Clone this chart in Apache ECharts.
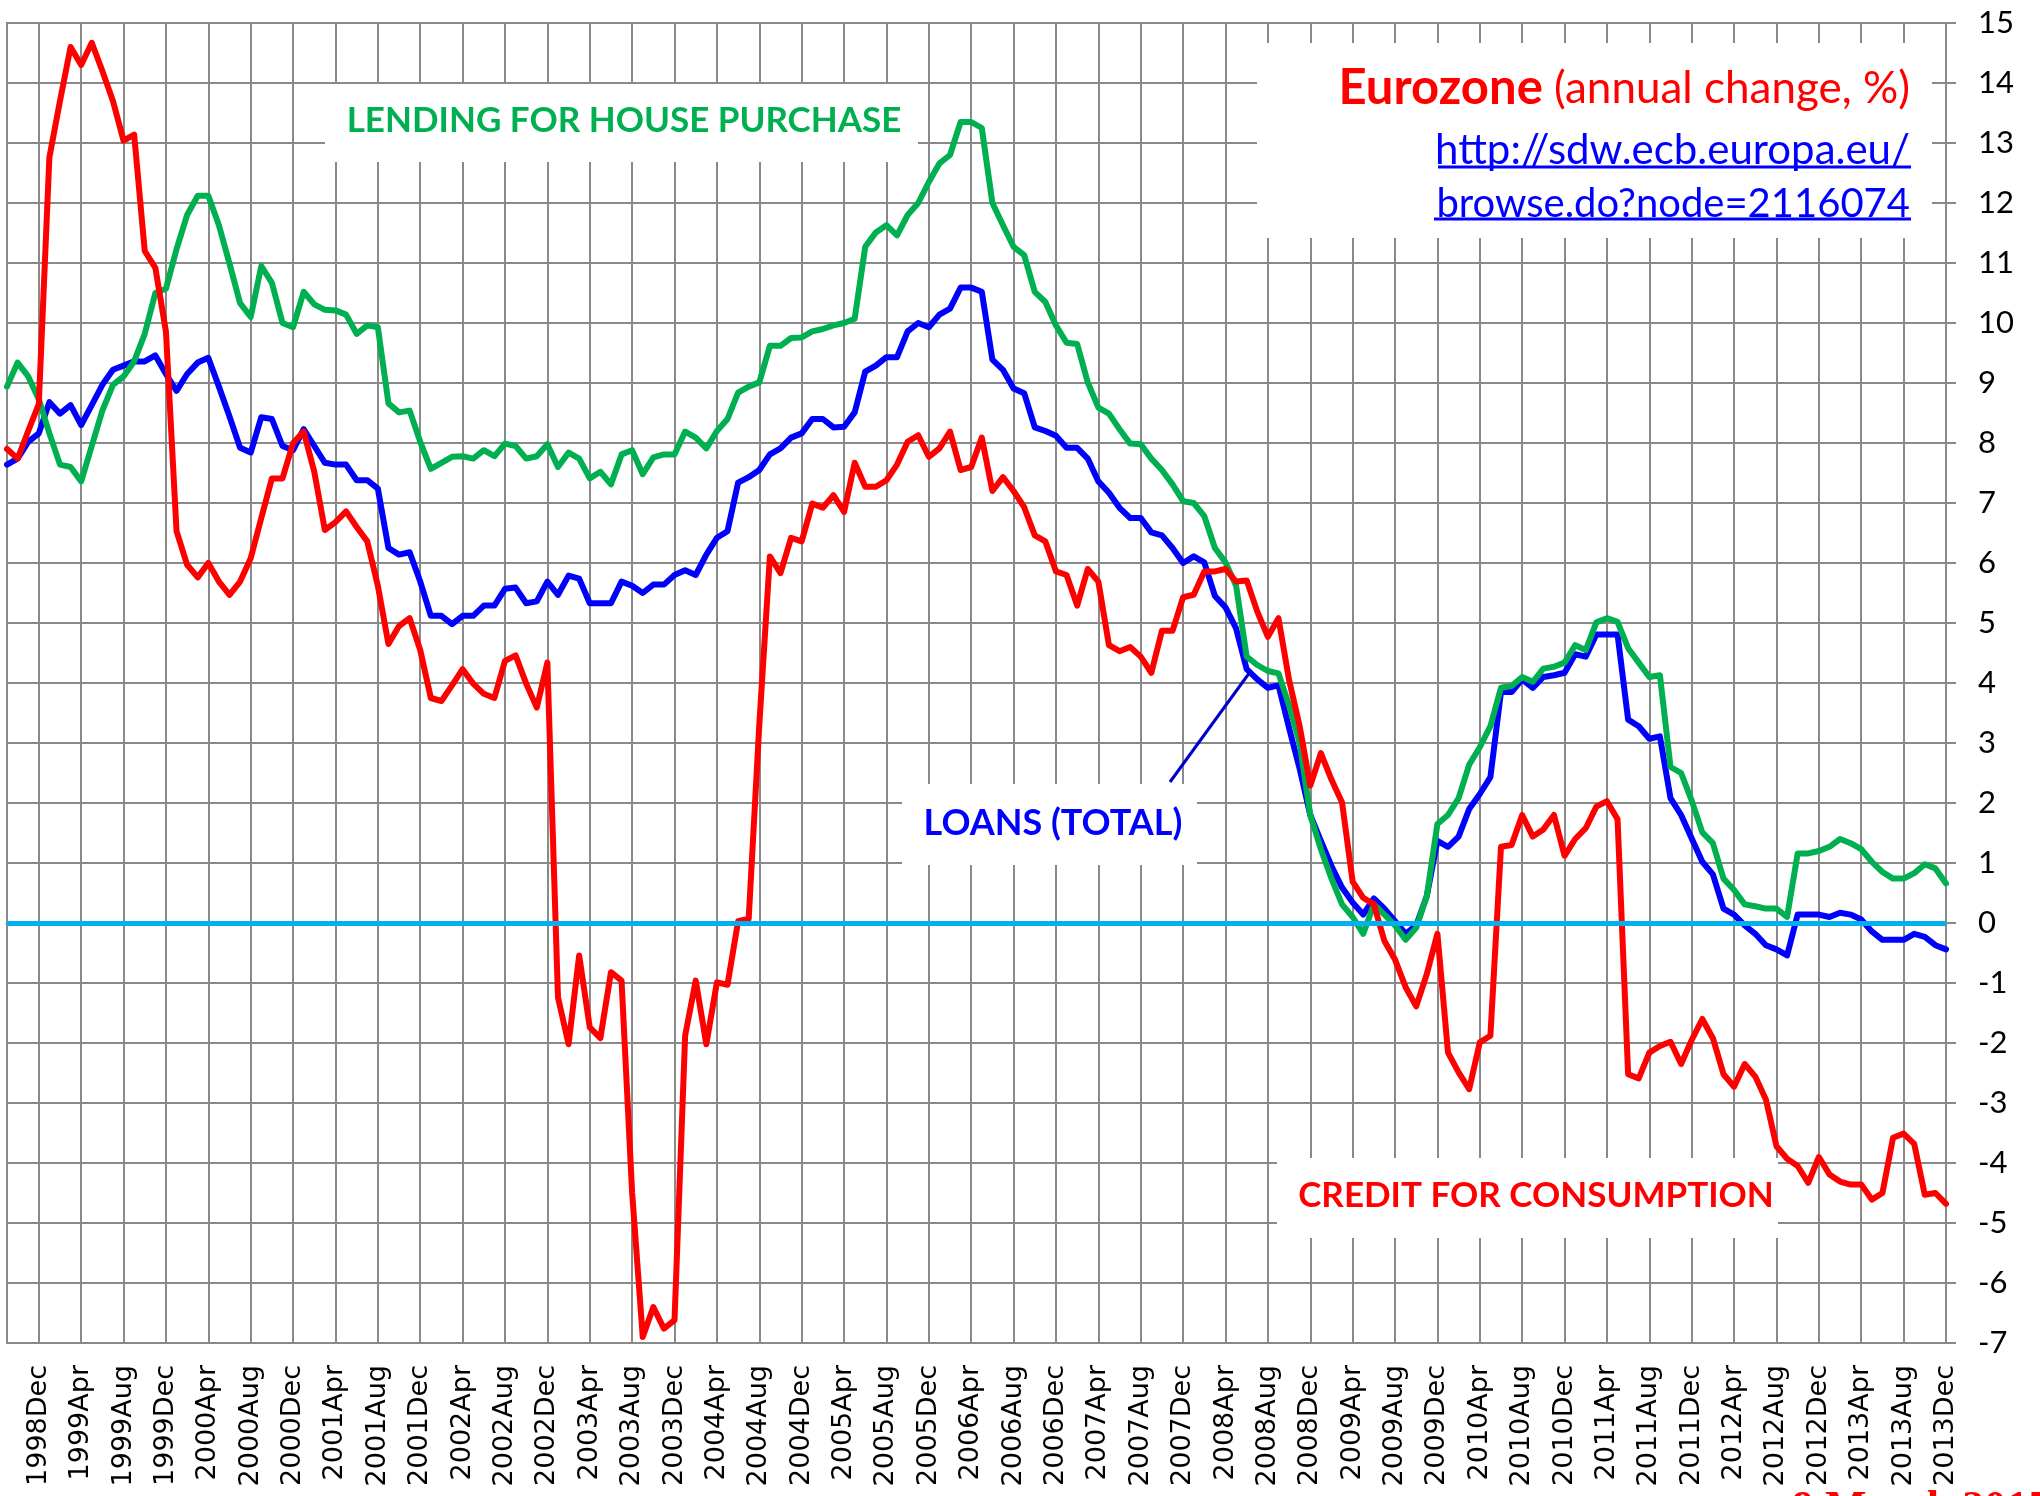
<!DOCTYPE html>
<html>
<head>
<meta charset="utf-8">
<script src="https://cdn.jsdelivr.net/npm/echarts@6/dist/echarts.min.js"></script>
<style>
html,body{margin:0;padding:0;background:#fff;}
#chart{width:2040px;height:1496px;}
</style>
</head>
<body>
<div id="chart"></div>
<script>
// Monthly observations, 1998 Sep .. 2013 Dec
const START_YEAR = 1998;
const START_MONTH = 8; // September (0-based)
const N_MONTHS = 184;
const MONTH_NAMES = ['Jan','Feb','Mar','Apr','May','Jun','Jul','Aug','Sep','Oct','Nov','Dec'];
const categories = [];
for (let i = 0; i < N_MONTHS; i++) {
  const m = START_MONTH + i;
  categories.push((START_YEAR + Math.floor(m / 12)) + MONTH_NAMES[m % 12]);
}

// Loans (total), annual change %
const loansTotal = [
  7.64,7.74,8.02,8.16,8.68,8.49,8.63,8.30,8.63,8.97,9.22,9.29,9.36,9.36,9.46,9.15,
  8.87,9.15,9.34,9.42,8.94,8.44,7.92,7.84,8.43,8.40,7.95,7.88,8.23,7.95,7.67,7.64,
  7.64,7.38,7.38,7.24,6.25,6.14,6.18,5.69,5.12,5.12,4.98,5.12,5.12,5.29,5.29,5.57,
  5.59,5.33,5.36,5.69,5.47,5.79,5.74,5.33,5.33,5.33,5.69,5.62,5.50,5.64,5.64,5.80,
  5.88,5.80,6.14,6.42,6.53,7.34,7.43,7.55,7.81,7.91,8.09,8.16,8.40,8.40,8.26,8.27,
  8.51,9.19,9.29,9.43,9.43,9.86,10.00,9.93,10.14,10.24,10.59,10.59,10.52,9.39,9.22,8.91,
  8.83,8.26,8.20,8.12,7.92,7.92,7.74,7.36,7.17,6.92,6.75,6.75,6.51,6.46,6.25,6.00,
  6.11,6.01,5.45,5.26,4.91,4.23,4.06,3.92,3.96,3.25,2.57,1.80,1.37,0.95,0.59,0.34,
  0.14,0.41,0.24,0.03,-0.18,-0.04,0.45,1.37,1.27,1.44,1.90,2.15,2.43,3.85,3.85,4.06,
  3.92,4.10,4.13,4.17,4.48,4.44,4.81,4.81,4.81,3.39,3.28,3.07,3.11,2.08,1.80,1.41,
  1.02,0.81,0.24,0.14,-0.04,-0.18,-0.37,-0.44,-0.54,0.14,0.14,0.14,0.10,0.17,0.14,0.06,
  -0.14,-0.28,-0.28,-0.28,-0.18,-0.23,-0.37,-0.44
];

// Lending for house purchase, annual change %
const housePurchase = [
  8.94,9.34,9.11,8.73,8.16,7.64,7.60,7.36,7.95,8.54,8.97,9.11,9.36,9.82,10.50,10.57,
  11.23,11.80,12.12,12.12,11.63,10.99,10.33,10.10,10.95,10.67,10.00,9.93,10.52,10.31,10.22,10.21,
  10.14,9.82,9.96,9.93,8.66,8.51,8.54,8.02,7.57,7.67,7.77,7.78,7.74,7.88,7.78,7.99,
  7.95,7.74,7.78,7.98,7.60,7.84,7.74,7.41,7.52,7.31,7.81,7.88,7.48,7.76,7.81,7.81,
  8.19,8.09,7.91,8.20,8.40,8.84,8.94,9.01,9.62,9.62,9.75,9.76,9.86,9.90,9.96,10.00,
  10.07,11.27,11.51,11.63,11.46,11.80,12.00,12.35,12.66,12.80,13.35,13.35,13.25,12.00,11.63,11.27,
  11.13,10.52,10.35,9.96,9.67,9.65,9.01,8.59,8.49,8.23,7.99,7.98,7.74,7.55,7.31,7.03,
  7.00,6.78,6.25,6.01,5.62,4.44,4.30,4.20,4.16,3.63,3.00,1.80,1.23,0.74,0.31,0.10,
  -0.18,0.31,0.14,-0.04,-0.28,-0.08,0.45,1.65,1.80,2.08,2.64,2.93,3.28,3.92,3.95,4.10,
  4.02,4.24,4.27,4.34,4.63,4.55,5.01,5.08,5.02,4.58,4.34,4.10,4.13,2.60,2.50,2.04,
  1.51,1.33,0.74,0.55,0.31,0.28,0.24,0.24,0.10,1.16,1.16,1.20,1.27,1.40,1.33,1.23,
  1.02,0.85,0.74,0.74,0.83,0.98,0.91,0.66
];

// Credit for consumption, annual change %
const consumerCredit = [
  7.90,7.74,8.20,8.65,12.76,13.70,14.60,14.30,14.67,14.20,13.70,13.04,13.14,11.20,10.92,9.86,
  6.53,5.97,5.76,6.00,5.69,5.47,5.69,6.08,6.75,7.41,7.41,8.00,8.19,7.52,6.55,6.68,
  6.86,6.60,6.36,5.62,4.65,4.95,5.08,4.55,3.75,3.70,3.96,4.23,3.99,3.82,3.75,4.37,
  4.46,3.99,3.59,4.34,-1.24,-2.02,-0.54,-1.74,-1.92,-0.82,-0.96,-4.50,-6.90,-6.40,-6.76,-6.62,
  -1.88,-0.96,-2.02,-0.99,-1.03,0.03,0.07,3.30,6.11,5.83,6.42,6.36,6.99,6.92,7.13,6.85,
  7.67,7.27,7.27,7.38,7.64,8.02,8.13,7.77,7.91,8.19,7.55,7.60,8.09,7.20,7.43,7.20,
  6.93,6.46,6.36,5.86,5.80,5.29,5.90,5.69,4.63,4.53,4.60,4.44,4.17,4.87,4.87,5.43,
  5.47,5.86,5.86,5.90,5.69,5.71,5.19,4.77,5.08,4.05,3.28,2.29,2.83,2.39,2.01,0.69,
  0.42,0.31,-0.30,-0.61,-1.07,-1.39,-0.85,-0.18,-2.16,-2.49,-2.77,-1.99,-1.88,1.27,1.30,1.80,
  1.44,1.56,1.80,1.12,1.40,1.58,1.94,2.03,1.73,-2.52,-2.59,-2.16,-2.05,-1.98,-2.35,-1.95,
  -1.60,-1.92,-2.52,-2.73,-2.35,-2.56,-2.94,-3.72,-3.93,-4.05,-4.33,-3.90,-4.19,-4.31,-4.36,-4.36,
  -4.61,-4.50,-3.58,-3.51,-3.68,-4.53,-4.50,-4.68
];

const Y_MIN = -7, Y_MAX = 15, Y_STEP = 1;
const LABEL_EVERY = 4, LABEL_OFFSET = 3; // first label: 1998Dec

const GRID_COLOR = '#8a8a8a';
const showTick = (idx) => (idx - LABEL_OFFSET) % LABEL_EVERY === 0;
const ANN_FONT = 'Lato, "Liberation Sans", sans-serif';

const chart = echarts.init(document.getElementById('chart'), null, {renderer: 'canvas'});
const lineSeries = (name, data, color) => ({
  name, type: 'line', data, symbol: 'none', smooth: false,
  lineStyle: {color, width: 6, join: 'round', cap: 'round'},
  itemStyle: {color}, z: 3
});

const option = {
  animation: false,
  backgroundColor: '#ffffff',
  grid: {left: 7, right: 94, top: 23, bottom: 153, show: true, borderColor: GRID_COLOR, borderWidth: 2},
  xAxis: {
    type: 'category', data: categories, boundaryGap: false,
    axisLine: {show: true, lineStyle: {color: GRID_COLOR, width: 3}},
    axisTick: {show: false},
    axisLabel: {interval: showTick, rotate: 90, fontFamily: '"DejaVu Sans", sans-serif', fontSize: 27, color: '#000', margin: 22},
    splitLine: {show: true, interval: showTick, lineStyle: {color: GRID_COLOR, width: 2}}
  },
  yAxis: {
    type: 'value', position: 'right', min: Y_MIN, max: Y_MAX, interval: Y_STEP,
    axisLine: {show: true, lineStyle: {color: GRID_COLOR, width: 2}},
    axisTick: {show: true, length: 10, lineStyle: {color: GRID_COLOR, width: 2}},
    axisLabel: {fontFamily: ANN_FONT, fontSize: 31, color: '#000', margin: 32},
    splitLine: {show: true, lineStyle: {color: GRID_COLOR, width: 2}}
  },
  series: [
    Object.assign(lineSeries('LOANS (TOTAL)', loansTotal, '#0000ff'), {
      markLine: {
        silent: true, symbol: ['none', 'none'], label: {show: false},
        lineStyle: {color: '#00b0f0', width: 5, type: 'solid'},
        data: [{yAxis: 0}]
      }
    }),
    lineSeries('LENDING FOR HOUSE PURCHASE', housePurchase, '#00b050'),
    lineSeries('CREDIT FOR CONSUMPTION', consumerCredit, '#ff0000')
  ],
  graphic: [
    // white boxes behind annotations
    {type: 'rect', z: 1, shape: {x: 325, y: 84, width: 593, height: 78}, style: {fill: '#fff'}},
    {type: 'rect', z: 1, shape: {x: 1257, y: 43, width: 675, height: 195}, style: {fill: '#fff'}},
    {type: 'rect', z: 1, shape: {x: 902, y: 784, width: 295, height: 81}, style: {fill: '#fff'}},
    {type: 'rect', z: 1, shape: {x: 1277, y: 1158, width: 501, height: 80}, style: {fill: '#fff'}},
    // annotations
    {type: 'text', z: 10, x: 624, y: 121, style: {text: 'LENDING FOR HOUSE PURCHASE', fill: '#00b050', font: 'bold 35px ' + ANN_FONT, textAlign: 'center', textVerticalAlign: 'middle'}},
    {type: 'text', z: 10, x: 1053, y: 823, style: {text: 'LOANS (TOTAL)', fill: '#0000ff', font: 'bold 36px ' + ANN_FONT, textAlign: 'center', textVerticalAlign: 'middle'}},
    {type: 'text', z: 10, x: 1536, y: 1196, style: {text: 'CREDIT FOR CONSUMPTION', fill: '#ff0000', font: 'bold 35px ' + ANN_FONT, textAlign: 'center', textVerticalAlign: 'middle'}},
    {type: 'line', z: 10, shape: {x1: 1170, y1: 782, x2: 1250, y2: 672}, style: {stroke: '#0000cc', lineWidth: 3}},
    {type: 'text', z: 10, x: 1910, y: 113, style: {
      text: '{b|Eurozone}{n| (annual change, %)}', textAlign: 'right', textVerticalAlign: 'bottom',
      rich: {b: {fill: '#ff0000', font: 'bold 49px ' + ANN_FONT}, n: {fill: '#ff0000', font: '44px ' + ANN_FONT}}
    }},
    {type: 'text', z: 10, x: 1910, y: 171, style: {text: 'http://sdw.ecb.europa.eu/', fill: '#0000ff', font: '42px ' + ANN_FONT, textAlign: 'right', textVerticalAlign: 'bottom'}},
    {type: 'line', z: 10, shape: {x1: 1438, y1: 167, x2: 1911, y2: 167}, style: {stroke: '#0000ff', lineWidth: 3}},
    {type: 'text', z: 10, x: 1910, y: 224, style: {text: 'browse.do?node=2116074', fill: '#0000ff', font: '40px ' + ANN_FONT, textAlign: 'right', textVerticalAlign: 'bottom'}},
    {type: 'line', z: 10, shape: {x1: 1434, y1: 219, x2: 1911, y2: 219}, style: {stroke: '#0000ff', lineWidth: 3}},
    // date stamp, mostly cut off at the bottom edge
    {type: 'text', z: 10, x: 1792, y: 1488, style: {text: '9 March 2015', fill: '#ff0000', font: 'bold 44px "Liberation Serif", serif', textAlign: 'left', textVerticalAlign: 'top'}}
  ]
};
chart.setOption(option);
</script>
</body>
</html>
